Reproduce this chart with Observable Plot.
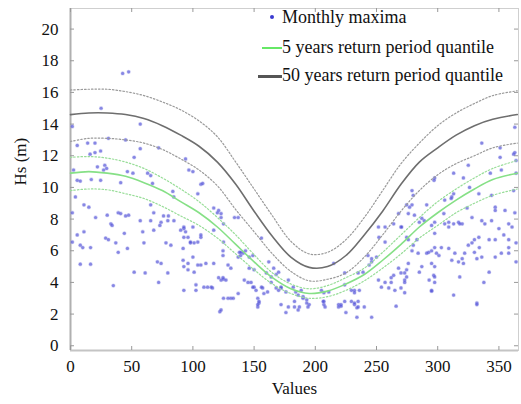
<!DOCTYPE html>
<html>
<head>
<meta charset="utf-8">
<script src="https://cdn.jsdelivr.net/npm/d3@7"></script>
<script src="https://cdn.jsdelivr.net/npm/@observablehq/plot@0.6"></script>
<style>
  html, body { margin: 0; padding: 0; background: #fff; }
  #wrap { position: relative; width: 521px; height: 404px; font-family: "Liberation Serif", "Times New Roman", Times, "DejaVu Serif", serif; }
  #wrap svg text { font-family: "Liberation Serif", "Times New Roman", Times, "DejaVu Serif", serif; }
  .leg { position: absolute; left: 0; font-size: 18px; color: #111; white-space: nowrap; line-height: 20px; }
  .leg .sym { position: absolute; }
  .leg .txt { position: absolute; left: 282px; top: 0; }
</style>
</head>
<body>
<div id="wrap"></div>
<script>
// ---- data ----
const xTicks = [0, 50, 100, 150, 200, 250, 300, 350];
const yTicks = [0, 2, 4, 6, 8, 10, 12, 14, 16, 18, 20];
const xDomain = [0, 366];
const yDomain = [-0.3, 21.3];

const curveDays = [0, 15, 30, 45, 60, 75, 90, 105, 120, 135, 150, 165, 180, 195, 210, 225, 240, 255, 270, 285, 300, 315, 330, 345, 365];
// 50 years return period quantile and its bounds
const q50Upper = [16.15, 16.2, 16.2, 16.05, 15.8, 15.4, 14.9, 14.2, 13.2, 11.6, 9.9, 8.2, 6.6, 5.8, 5.9, 6.7, 8.1, 9.8, 11.5, 12.8, 13.9, 14.7, 15.3, 15.8, 16.1];
const q50 = [14.6, 14.7, 14.7, 14.6, 14.35, 13.9, 13.3, 12.6, 11.6, 10.2, 8.5, 6.9, 5.6, 4.95, 5.0, 5.7, 7.0, 8.5, 10.2, 11.6, 12.5, 13.3, 13.9, 14.3, 14.6];
const q50Lower = [12.9, 13.1, 13.1, 13.0, 12.8, 12.4, 11.8, 11.1, 10.1, 8.6, 7.2, 5.8, 4.7, 4.1, 4.2, 4.6, 5.6, 7.0, 8.5, 9.8, 10.8, 11.5, 12.0, 12.5, 12.8];
// 5 years return period quantile and its bounds
const q5Upper = [11.9, 11.95, 11.85, 11.6, 11.2, 10.6, 9.9, 9.1, 8.1, 7.0, 5.75, 4.6, 3.9, 3.6, 3.8, 4.3, 4.9, 5.9, 7.0, 8.1, 9.1, 9.9, 10.6, 11.2, 11.7];
const q5 = [10.9, 11.0, 10.9, 10.7, 10.3, 9.8, 9.1, 8.4, 7.5, 6.4, 5.3, 4.3, 3.6, 3.3, 3.45, 3.9, 4.5, 5.4, 6.4, 7.5, 8.4, 9.2, 9.9, 10.5, 10.9];
const q5Lower = [9.8, 9.9, 9.85, 9.6, 9.3, 8.8, 8.2, 7.6, 6.8, 5.8, 4.8, 3.9, 3.3, 3.0, 3.1, 3.5, 4.1, 4.9, 5.8, 6.8, 7.6, 8.4, 9.0, 9.5, 9.9];

// Monthly maxima: [day, Hs]
const monthlyMaxima = [
  [42.6,17.2],[47.5,17.3],[25,15.0],[1.5,13.85],[57,14.0],[5.5,12.65],[14,12.8],[20,12.8],
  [16,12.1],[20,12.2],[24.6,12.3],[31,13.1],[45,13.0],[57,12.45],[72,12.5],[94,11.8],[52,11.9],
  [22,11.3],[28,11.4],[29.5,11.2],[27,11.1],[2.5,11.1],[46.5,11.0],[51,10.9],[63,10.9],[67,10.25],
  [5.5,10.45],[8,10.4],[17,10.5],[24.6,10.45],[41,10.3],[83.6,9.75],[100,11.0],[96.7,11.1],[106.5,10.2],
  [104,9.6],[4,9.4],[108,10.25],[84.4,9.4],[65.5,10.75],
  [11,8.9],[15,8.75],[1.5,8.4],[5.5,7.0],[11,7.2],[1.5,6.55],[8,6.35],[10,6.2],[16.4,6.2],
  [8,5.15],[16.4,5.15],[20.5,8.1],[30,8.25],[33,7.7],[34,7.6],[28.7,6.8],[31,6.7],[37,6.5],[39,5.9],
  [35,3.8],[39,8.4],[41,8.35],[45,8.2],[47.5,8.25],[44,7.1],[46.5,6.15],[52,4.65],[57,7.9],[59,7.2],
  [60,6.5],[61,4.6],[65.5,8.9],[68,8.4],[68,7.3],[73,7.6],[71,5.3],[74,5.2],[72,4.0],[76,8.2],[80,8.2],
  [78,6.5],[82,6.35],[79.5,4.6],[84.5,7.9],[90,7.3],[92.6,7.4],[94,7.2],[92,6.15],[92,5.4],[92.6,5.0],
  [92.6,3.5],[96,4.8],[98,6.5],[101,6.5],[100,5.6],[102.5,3.85],[104,5.1],[106.5,5.1],[106.5,6.85],
  [112,3.7],[116,3.65],[117,5.2],[121,8.55],[123,8.35],[121,4.3],[123,4.15],[125,4.2],[127,4.15],
  [122,2.15],[124.6,6.0],[124.6,5.7],[128.7,5.1],[131,4.9],[125,3.0],[131,3.0],[134,8.1],[137,5.6],
  [138,5.9],[141,5.85],[137,3.3],[143,6.0],[145,4.0],[147.5,4.0],[150,3.7],[151.6,3.5],[153,3.0],
  [154,2.7],[153,2.45],[65.5,7.9],[74,7.8],[79.5,7.9],[92.6,7.5],[117,8.7],[120,8.4],[123,8.1],
  [137,8.1],[92.6,6.85],[98,6.55],[139,5.9],[156,6.8],[162,5.3],
  [100,7.5],[96,6.85],[104,6.55],[106.5,7.0],[125,7.7],[117,7.3],[125,6.55],[96,5.2],[110.6,5.2],
  [101,4.65],[124.6,4.3],[102.5,3.5],[109,3.7],[115,3.7],[128.7,3.0],[133,3.0],[123,2.26],[139,5.7],
  [146,5.6],[149,5.7],[142,4.15],[149,3.7],[146,4.9],[150,4.8],[154,2.8],[153,2.6],[157,3.65],[161,3.4],
  [160,4.6],[164,4.35],[168,4.5],[166,4.9],[170,4.65],[170,3.5],[172,3.7],[176,3.4],[178,4.15],
  [172,2.6],[178,2.45],[182,3.7],[184,3.4],[188.5,3.5],[186,3.2],[190,3.1],[193,2.9],[183,2.8],
  [187,2.45],[195,2.6],[176,2.1],[205,3.5],[207,3.35],[211,3.4],[207,2.8],[207,2.6],[208,2.45],
  [219,2.6],[221,2.6],[224,2.8],[232,2.6],[235,2.8],[234,2.4],[215,5.2],[232,3.5],[236,3.5],[225,2.1],
  [156,3.7],[158,3.3],[164,4.0],[168,3.65],[172,3.65],[183,2.45],[186,2.26],[190,3.0],[193,2.7],
  [194,2.45],[206.5,2.8],[219,2.45],[221,2.5],[229.5,2.8],[232,2.7],[235,2.45],[240,2.45],[234,1.8],
  [246,1.8],[266,2.5],[224,3.85],[229.5,3.5],[232,3.35],[243,5.7],[246,5.5],[244,5.1],[251.6,4.15],
  [257,4.0],[254,3.7],[260,3.65],[265,3.5],[270,3.65],[262,4.3],[273,4.15],[268,4.9],[274.6,4.8],
  [273,3.35],[252,6.85],[257,6.55],[264,7.7],[270,7.5],[281,8.25],[287,8.05],[295,7.6],[279,6.0],
  [284,5.85],[292.6,5.9],[297.5,6.2],[296.7,4.45],[297.5,4.0],[295,3.5],[305,8.35],[309,7.5],[313,7.7],
  [317,7.8],[320,7.7],[311.5,5.4],[317,5.3],[320,5.5],[330,5.9],[332,5.5],[328,6.5],[333.6,6.85],
  [313,3.2],[332,2.7],[342,4.65],[347,8.55],[350,7.4],[352,5.85],[358,5.85],[363,8.4],[364,6.5],
  [297.5,7.1],[305.7,7.7],[291,5.85],[301,5.7],[303,6.2],[276,5.2],[273,4.6],[273,4.0],[287,5.0],
  [285,4.65],[295,5.2],[297.5,5.0],[297.5,4.35],[295,3.45],[318,4.35],[321,5.2],[325,6.35],[330,6.7],
  [334,6.2],[336,5.6],[338.5,7.7],[342,6.7],[347,6.7],[337.7,4.0],[332,2.6],[354,7.0],[358,6.7],
  [358,6.2],[364,5.3],[347,5.6],
  [336,12.8],[351,11.9],[363,12.2],[313,10.9],[297.5,10.6],[297,10.45],[321,10.6],[326,10.0],[343,10.9],
  [352,11.1],[362,9.8],[313,9.6],[333.6,9.6],[344,9.5],[277,8.75],[274.6,8.9],[291,8.9],[305.7,9.2],
  [311.5,9.4],[289,7.9],[297.5,7.8],[324,8.7],[328,8.1],[347,8.75],[355,8.55],[336,7.9],[344,7.9],
  [358,7.7],[360.7,7.5],[276,8.35],[270.5,7.5],
  [279,9.8],[280,9.5],[268,8.35],[279,8.9],[251.6,7.5],[257,7.5],[285,7.8],[309,7.8],[318,7.7],
  [274.6,6.85],[276,6.7],[283,6.7],[280,6.35],[295,6.0],[299,5.85],[309,6.15],[314,5.85],[322,5.85],
  [250,5.6],[246,5.3],[235,4.6],[239,4.65],[224,4.6],[264,4.45],[270,4.6],[274.6,4.35],[262,4.0],
  [293,4.15],[363,13.8],[362,12.1],[351,12.5],[325,11.4],[311,9.3],[364,10.9],[364,11.7]
];

// ---- build tables for the library ----
const curveRows = (vals) => curveDays.map((d, i) => ({day: d, hs: vals[i]}));
const points = monthlyMaxima.map(([day, hs]) => ({day, hs}));

const W = 521, H = 404;
const mL = 70, mR = 3, mT = 8, mB = 54;
const plotW = W - mL - mR, plotH = H - mT - mB;
const serif = '"Liberation Serif", "Times New Roman", Times, "DejaVu Serif", serif';

const dotted = {x: "day", y: "hs", curve: "catmull-rom", strokeWidth: 1.2, strokeDasharray: "1.5,2"};
const solid = {x: "day", y: "hs", curve: "catmull-rom"};

const chart = Plot.plot({
  width: W,
  height: H,
  marginLeft: mL,
  marginRight: mR,
  marginTop: mT,
  marginBottom: mB,
  style: {fontFamily: serif, fontSize: "17px", color: "#111", background: "#fff"},
  x: {domain: xDomain, axis: null},
  y: {domain: yDomain, axis: null},
  marks: [
    Plot.frame({stroke: "#cfcfcf"}),
    Plot.ruleX([xDomain[0]], {stroke: "#b0b0b0", strokeWidth: 2}),
    Plot.ruleY([yDomain[0]], {stroke: "#c4c4c4", strokeWidth: 2}),
    // inward tick marks on all four sides
    Plot.tickX(xTicks, {x: d => d, insetTop: plotH - 4, stroke: "#999"}),
    Plot.tickX(xTicks, {x: d => d, insetBottom: plotH - 4, stroke: "#999"}),
    Plot.tickY(yTicks, {y: d => d, insetRight: plotW - 4, stroke: "#999"}),
    Plot.tickY(yTicks, {y: d => d, insetLeft: plotW - 4, stroke: "#999"}),
    Plot.axisX({ticks: xTicks, tickSize: 0, tickPadding: 9, fontSize: 17, fontFamily: serif, label: null}),
    Plot.axisY({ticks: yTicks, tickSize: 0, tickPadding: 12, fontSize: 17, fontFamily: serif, label: null}),
    Plot.text(["Values"], {frameAnchor: "bottom", dy: 43, fontSize: 17, fontFamily: serif, fill: "#111"}),
    Plot.text(["Hs (m)"], {frameAnchor: "left", dx: -50, dy: 6, rotate: -90, fontSize: 17, fontFamily: serif, fill: "#111"}),
    // scatter
    Plot.dot(points, {x: "day", y: "hs", r: 1.6, fill: "#4646d6", fillOpacity: 0.65, stroke: "#8c8ce6", strokeOpacity: 0.35, strokeWidth: 1.2}),
    // 5 years quantile
    Plot.line(curveRows(q5Upper), {...dotted, stroke: "#98dd98"}),
    Plot.line(curveRows(q5Lower), {...dotted, stroke: "#98dd98"}),
    Plot.line(curveRows(q5), {...solid, stroke: "#86e086", strokeWidth: 1.6}),
    // 50 years quantile
    Plot.line(curveRows(q50Upper), {...dotted, stroke: "#9a9a9a"}),
    Plot.line(curveRows(q50Lower), {...dotted, stroke: "#9a9a9a"}),
    Plot.line(curveRows(q50), {...solid, stroke: "#6e6e6e", strokeWidth: 1.6})
  ]
});

const wrap = document.getElementById("wrap");
wrap.appendChild(chart);

// legend (overlay, inside the plot's top-right corner)
const legendItems = [
  {label: "Monthly maxima", kind: "dot", color: "#3a3ad0", top: 7},
  {label: "5 years return period quantile", kind: "line", color: "#66e866", width: 2, top: 37},
  {label: "50 years return period quantile", kind: "line", color: "#555", width: 3, top: 65}
];
for (const it of legendItems) {
  const row = document.createElement("div");
  row.className = "leg";
  row.style.top = it.top + "px";
  row.style.width = "521px";
  row.style.height = "22px";
  const sym = document.createElement("div");
  sym.className = "sym";
  if (it.kind === "dot") {
    sym.style.left = "270px"; sym.style.top = "8px";
    sym.style.width = "4px"; sym.style.height = "4px";
    sym.style.borderRadius = "2px"; sym.style.background = it.color;
  } else {
    sym.style.left = it.width === 3 ? "258px" : "262px";
    sym.style.top = (11 - it.width / 2) + "px";
    sym.style.width = it.width === 3 ? "24px" : "20px";
    sym.style.height = it.width + "px";
    sym.style.background = it.color;
  }
  const txt = document.createElement("span");
  txt.className = "txt";
  txt.textContent = it.label;
  row.appendChild(sym);
  row.appendChild(txt);
  wrap.appendChild(row);
}
</script>
</body>
</html>
